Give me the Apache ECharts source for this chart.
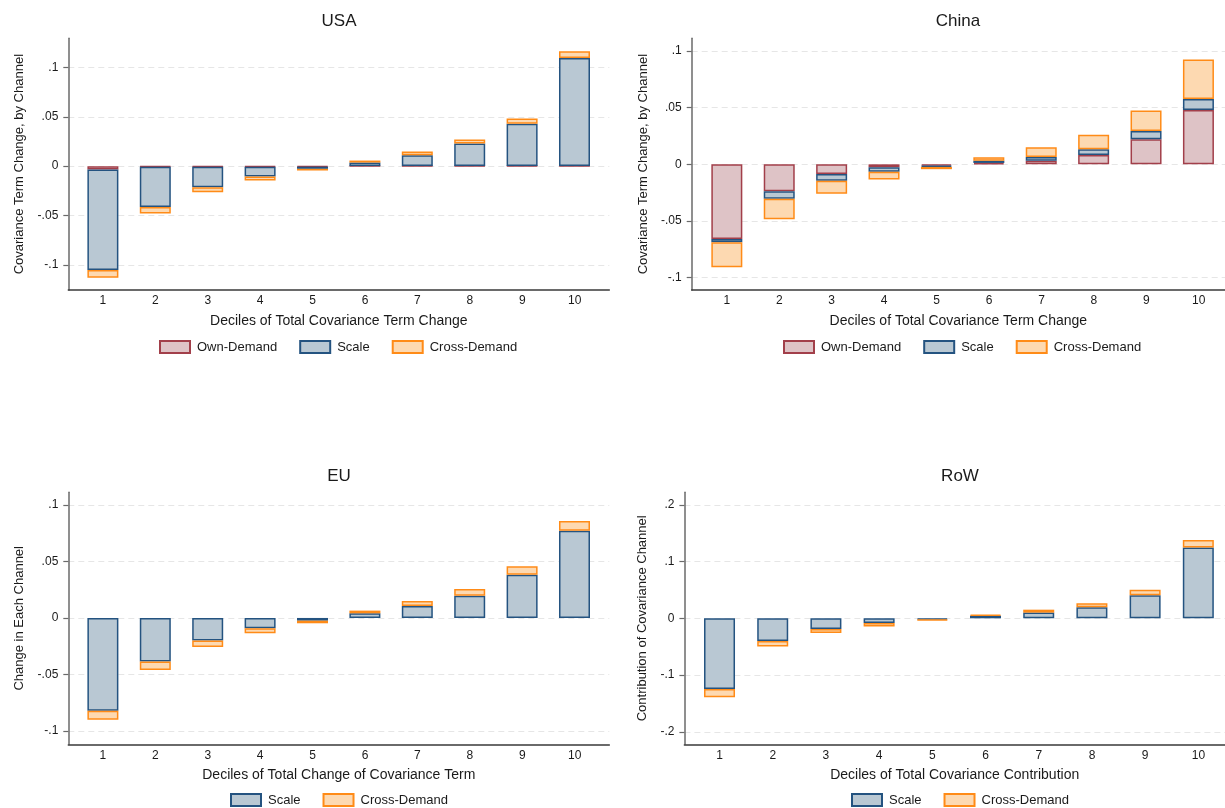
<!DOCTYPE html>
<html>
<head>
<meta charset="utf-8">
<script src="https://cdn.jsdelivr.net/npm/echarts@6/dist/echarts.min.js"></script>
<style>
html,body{margin:0;padding:0;background:#fff;}
#chart{width:1225px;height:808px;}
</style>
</head>
<body>
<div id="chart"></div>
<script>
// ---- data ----
const deciles = [1, 2, 3, 4, 5, 6, 7, 8, 9, 10];
const decileLabels = ['1', '2', '3', '4', '5', '6', '7', '8', '9', '10'];

const usaOwn   = [-0.0034, -0.0005, -0.0005, -0.0005, -0.0005, 0.0002, 0.0003, 0.0003, 0.0003, 0.0003];
const usaScale = [-0.1017, -0.0407, -0.0208, -0.0100, -0.0022, 0.0035, 0.0108, 0.0227, 0.0426, 0.1092];
const usaCross = [-0.0078, -0.0068, -0.0050, -0.0040, -0.0017, 0.0020, 0.0037, 0.0040, 0.0054, 0.0068];

const chinaOwn   = [-0.0660, -0.0238, -0.0085, -0.0026, -0.0013, 0.0012, 0.0032, 0.0082, 0.0221, 0.0479];
const chinaScale = [-0.0028, -0.0065, -0.0059, -0.0039, -0.0010, 0.0020, 0.0033, 0.0050, 0.0073, 0.0097];
const chinaCross = [-0.0221, -0.0182, -0.0115, -0.0070, -0.0020, 0.0030, 0.0085, 0.0130, 0.0182, 0.0348];

const euScale = [-0.0820, -0.0385, -0.0200, -0.0091, -0.0024, 0.0041, 0.0106, 0.0197, 0.0382, 0.0771];
const euCross = [-0.0080, -0.0074, -0.0056, -0.0044, -0.0023, 0.0024, 0.0044, 0.0059, 0.0074, 0.0085];

const rowScale = [-0.1246, -0.0398, -0.0187, -0.0082, -0.0023, 0.0047, 0.0100, 0.0193, 0.0404, 0.1246];
const rowCross = [-0.0146, -0.0099, -0.0070, -0.0062, -0.0017, 0.0017, 0.0052, 0.0070, 0.0099, 0.0134];

const usaTicks   = [-0.1, -0.05, 0, 0.05, 0.1];
const chinaTicks = [-0.1, -0.05, 0, 0.05, 0.1];
const euTicks    = [-0.1, -0.05, 0, 0.05, 0.1];
const rowTicks   = [-0.2, -0.1, 0, 0.1, 0.2];

const panelTitles = ['USA', 'China', 'EU', 'RoW'];
const xTitles = ['Deciles of Total Covariance Term Change', 'Deciles of Total Covariance Term Change',
                 'Deciles of Total Change of Covariance Term', 'Deciles of Total Covariance Contribution'];
const yTitles = ['Covariance Term Change, by Channel', 'Covariance Term Change, by Channel',
                 'Change in Each Channel', 'Contribution of Covariance Channel'];

// ---- styles / layout ----
const FONT = '"Liberation Sans", Arial, Helvetica, sans-serif';
const TXT = '#1a1a1a';
const styles = {
  'Own-Demand':   {color: '#dec3c6', borderColor: '#a23f4a', borderWidth: 1.5},
  'Scale':        {color: '#b9c8d3', borderColor: '#245380', borderWidth: 1.5},
  'Cross-Demand': {color: '#fdd9b1', borderColor: '#ff8b17', borderWidth: 1.5}
};

// visible axis frame + bar band grid (same vertical extent)
const layouts = [
  {left: 68.3, top: 38.3, width: 541, height: 251.7, xmin: 0.34, xmax: 10.66, band: 52.4, ymin: -0.1253, ymax: 0.1294, ticks: usaTicks, yGap: 42, titleX: 339, titleY: 13},
  {left: 691.7, top: 38.3, width: 533.3, height: 251.7, xmin: 0.33, xmax: 10.5, band: 52.4, ymin: -0.1109, ymax: 0.1112, ticks: chinaTicks, yGap: 42, titleX: 958, titleY: 13},
  {left: 68.3, top: 492.3, width: 541, height: 252, xmin: 0.34, xmax: 10.66, band: 52.4, ymin: -0.1116, ymax: 0.111, ticks: euTicks, yGap: 42, titleX: 339, titleY: 468},
  {left: 684.4, top: 492.3, width: 540.6, height: 252, xmin: 0.34, xmax: 10.5, band: 53.2, ymin: -0.222, ymax: 0.222, ticks: rowTicks, yGap: 35, titleX: 960, titleY: 468}
];

function fmt(v) {
  if (Math.abs(v) < 1e-12) return '0';
  const s = String(Math.abs(v)).replace(/^0/, '');
  return (v < 0 ? '-' : '') + s;
}

const panelSeries = [
  [['Own-Demand', usaOwn], ['Scale', usaScale], ['Cross-Demand', usaCross]],
  [['Own-Demand', chinaOwn], ['Scale', chinaScale], ['Cross-Demand', chinaCross]],
  [['Scale', euScale], ['Cross-Demand', euCross]],
  [['Scale', rowScale], ['Cross-Demand', rowCross]]
];

const grids = [], xAxes = [], yAxes = [], series = [], titles = [];
const N = layouts.length;
// frame grids 0..3
layouts.forEach((L, i) => {
  grids.push({left: L.left, top: L.top, width: L.width, height: L.height, outerBoundsMode: 'none', containLabel: false});
  titles.push({text: panelTitles[i], left: L.titleX, top: L.titleY, textAlign: 'center', padding: 0,
    textStyle: {fontFamily: FONT, fontSize: 17, fontWeight: 'normal', color: TXT}});
  xAxes.push({
    type: 'value', gridIndex: i, min: L.xmin, max: L.xmax,
    name: xTitles[i], nameLocation: 'middle', nameGap: 24,
    nameTextStyle: {fontFamily: FONT, fontSize: 14, color: TXT},
    axisLine: {show: true, onZero: false, lineStyle: {color: '#3a3a3a', width: 1.5}},
    axisTick: {show: false, customValues: deciles},
    axisLabel: {customValues: deciles, formatter: v => decileLabels[deciles.indexOf(v)] || '', margin: 5,
      fontFamily: FONT, fontSize: 12, color: TXT},
    splitLine: {show: false}
  });
  yAxes.push({
    type: 'value', gridIndex: i, min: L.ymin, max: L.ymax,
    name: yTitles[i], nameLocation: 'middle', nameGap: L.yGap, nameRotate: 90,
    nameTextStyle: {fontFamily: FONT, fontSize: 13, color: TXT},
    axisLine: {show: true, onZero: false, lineStyle: {color: '#6a6a6a', width: 1.5}},
    axisTick: {show: true, length: 5, customValues: L.ticks, lineStyle: {color: '#6a6a6a', width: 1.2}},
    axisLabel: {customValues: L.ticks, formatter: fmt, margin: 10, fontFamily: FONT, fontSize: 12, color: TXT},
    splitLine: {show: true, lineStyle: {color: '#e6e6e6', width: 1, type: [6, 4]}}
  });
});
// bar grids 4..7: category bands aligned so decile k sits at value k of the frame axis
layouts.forEach((L, i) => {
  const pxPerUnit = L.width / (L.xmax - L.xmin);
  const center1 = L.left + (1 - L.xmin) * pxPerUnit;
  grids.push({left: center1 - L.band / 2, top: L.top, width: L.band * 10, height: L.height, outerBoundsMode: 'none', containLabel: false});
  xAxes.push({type: 'category', gridIndex: N + i, data: decileLabels, boundaryGap: true, show: false});
  yAxes.push({type: 'value', gridIndex: N + i, min: L.ymin, max: L.ymax, show: false, splitLine: {show: false}});
  panelSeries[i].forEach(([name, arr]) => {
    series.push({
      type: 'bar', name: name, stack: 'panel' + i, xAxisIndex: N + i, yAxisIndex: N + i,
      barWidth: 31, data: arr, itemStyle: styles[name],
      emphasis: {disabled: true}, animation: false
    });
  });
});

const legendBase = {
  orient: 'horizontal', itemWidth: 30, itemHeight: 12, itemGap: 22, icon: 'rect',
  padding: 0, selectedMode: false,
  textStyle: {fontFamily: FONT, fontSize: 13, color: TXT, padding: [0, 0, 0, 2]}
};
const legends = [
  Object.assign({}, legendBase, {left: 159, top: 340, data: ['Own-Demand', 'Scale', 'Cross-Demand']}),
  Object.assign({}, legendBase, {left: 783, top: 340, data: ['Own-Demand', 'Scale', 'Cross-Demand']}),
  Object.assign({}, legendBase, {left: 230, top: 793, data: ['Scale', 'Cross-Demand']}),
  Object.assign({}, legendBase, {left: 851, top: 793, data: ['Scale', 'Cross-Demand']})
];

const chart = echarts.init(document.getElementById('chart'), null, {renderer: 'canvas'});
chart.setOption({
  animation: false,
  backgroundColor: '#ffffff',
  title: titles,
  legend: legends,
  grid: grids,
  xAxis: xAxes,
  yAxis: yAxes,
  series: series
});
</script>
</body>
</html>
